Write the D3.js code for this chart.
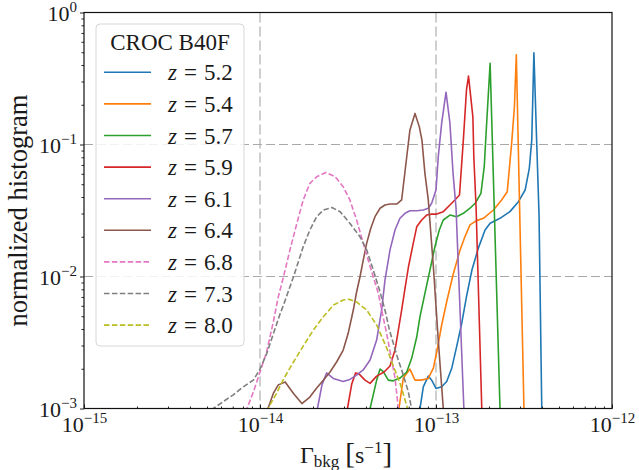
<!DOCTYPE html>
<html>
<head>
<meta charset="utf-8">
<script src="https://cdn.jsdelivr.net/npm/d3@7"></script>
<style>
  body { margin: 0; background: #fff; }
  text { font-family: "Liberation Serif", "DejaVu Serif", serif; fill: #1a1a1a; }
</style>
</head>
<body>
<div id="chart"></div>
<script>
// values: [Gamma_bkg (s^-1), normalized histogram]
var labels = ["5.2", "5.4", "5.7", "5.9", "6.1", "6.4", "6.8", "7.3", "8.0"];
var colors = ["#1f77b4", "#ff7f0e", "#2ca02c", "#d62728", "#9467bd", "#8c564b", "#e377c2", "#7f7f7f", "#bcbd22"];
var dashed = [false, false, false, false, false, false, true, true, true];

var z52 = [[7.91e-14, 8.2e-4], [8.11e-14, 1.0e-3], [8.47e-14, 1.46e-3], [9.04e-14, 1.76e-3], [9.45e-14, 1.64e-3],
  [1.0e-13, 1.42e-3], [1.077e-13, 1.46e-3], [1.15e-13, 1.60e-3], [1.23e-13, 2.03e-3], [1.31e-13, 2.94e-3],
  [1.40e-13, 4.42e-3], [1.49e-13, 7.03e-3], [1.60e-13, 1.12e-2], [1.74e-13, 1.64e-2], [1.90e-13, 2.25e-2],
  [2.03e-13, 2.53e-2], [2.31e-13, 2.76e-2], [2.63e-13, 3.10e-2], [2.94e-13, 3.69e-2], [3.21e-13, 4.52e-2],
  [3.39e-13, 6.6e-2], [3.50e-13, 0.108], [3.60e-13, 0.496], [3.73e-13, 0.108], [3.85e-13, 2.92e-2],
  [3.99e-13, 1.0e-3], [4.06e-13, 3.4e-4]];
var z54 = [[6.0e-14, 8.2e-4], [6.16e-14, 1.0e-3], [6.52e-14, 1.70e-3], [7.11e-14, 1.99e-3], [7.60e-14, 1.64e-3],
  [8.22e-14, 1.64e-3], [9.04e-14, 1.69e-3], [9.66e-14, 2.02e-3], [1.01e-13, 2.69e-3], [1.077e-13, 4.29e-3],
  [1.15e-13, 6.44e-3], [1.25e-13, 1.03e-2], [1.37e-13, 1.59e-2], [1.46e-13, 2.0e-2], [1.56e-13, 2.46e-2],
  [1.70e-13, 2.65e-2], [1.86e-13, 2.76e-2], [2.12e-13, 3.19e-2], [2.36e-13, 3.80e-2], [2.54e-13, 4.39e-2],
  [2.69e-13, 0.102], [2.79e-13, 0.193], [2.86e-13, 0.479], [3.16e-13, 1.0e-3], [3.18e-13, 6.9e-4]];
var z57 = [[4.11e-14, 8.2e-4], [4.22e-14, 1.0e-3], [4.60e-14, 1.64e-3], [4.81e-14, 1.99e-3], [5.02e-14, 1.90e-3],
  [5.36e-14, 1.64e-3], [5.72e-14, 1.62e-3], [6.24e-14, 1.70e-3], [6.82e-14, 1.89e-3], [7.28e-14, 2.41e-3],
  [7.77e-14, 3.48e-3], [8.11e-14, 4.96e-3], [8.65e-14, 7.46e-3], [9.24e-14, 1.12e-2], [9.86e-14, 1.68e-2],
  [1.044e-13, 2.25e-2], [1.10e-13, 2.68e-2], [1.20e-13, 2.92e-2], [1.31e-13, 2.84e-2], [1.43e-13, 3.01e-2],
  [1.56e-13, 3.29e-2], [1.67e-13, 3.59e-2], [1.80e-13, 4.27e-2], [1.88e-13, 6.79e-2], [1.94e-13, 0.145],
  [2.03e-13, 0.412], [2.31e-13, 1.0e-3], [2.33e-13, 6.9e-4]];
var z59 = [[3.04e-14, 8.2e-4], [3.14e-14, 1.0e-3], [3.32e-14, 1.53e-3], [3.49e-14, 1.86e-3], [3.65e-14, 1.83e-3],
  [3.95e-14, 1.64e-3], [4.22e-14, 1.55e-3], [4.60e-14, 1.76e-3], [5.07e-14, 1.89e-3], [5.48e-14, 2.10e-3],
  [5.85e-14, 2.77e-3], [6.11e-14, 3.93e-3], [6.38e-14, 5.57e-3], [6.67e-14, 8.18e-3], [6.97e-14, 1.18e-2],
  [7.43e-14, 1.79e-2], [7.77e-14, 2.38e-2], [8.29e-14, 2.68e-2], [8.85e-14, 2.92e-2], [9.45e-14, 2.97e-2],
  [1.01e-13, 2.97e-2], [1.10e-13, 3.10e-2], [1.20e-13, 3.48e-2], [1.28e-13, 3.80e-2], [1.36e-13, 4.14e-2],
  [1.43e-13, 0.108], [1.49e-13, 0.259], [1.53e-13, 0.330], [1.56e-13, 0.259], [1.62e-13, 0.162],
  [1.64e-13, 8.08e-2], [1.69e-13, 3.30e-2], [1.82e-13, 1.0e-3], [1.84e-13, 6.9e-4]];
var z61 = [[2.05e-14, 8.2e-4], [2.12e-14, 1.0e-3], [2.25e-14, 1.51e-3], [2.39e-14, 1.86e-3], [2.61e-14, 1.69e-3],
  [2.97e-14, 1.60e-3], [3.24e-14, 1.66e-3], [3.54e-14, 1.79e-3], [3.86e-14, 1.96e-3], [4.22e-14, 2.33e-3],
  [4.60e-14, 3.30e-3], [4.91e-14, 5.57e-3], [5.13e-14, 9.4e-3], [5.48e-14, 1.59e-2], [5.85e-14, 2.25e-2],
  [6.24e-14, 2.76e-2], [6.67e-14, 3.01e-2], [7.11e-14, 3.15e-2], [7.77e-14, 3.15e-2], [8.47e-14, 3.19e-2],
  [9.04e-14, 3.29e-2], [9.45e-14, 3.59e-2], [1.0e-13, 4.52e-2], [1.03e-13, 8.08e-2], [1.077e-13, 0.145],
  [1.14e-13, 0.249], [1.20e-13, 0.145], [1.25e-13, 6.05e-2], [1.30e-13, 3.29e-2], [1.44e-13, 1.0e-3],
  [1.46e-13, 6.9e-4]];
var z64 = [[1.08e-14, 7.5e-4], [1.11e-14, 1.0e-3], [1.19e-14, 1.30e-3], [1.27e-14, 1.51e-3], [1.39e-14, 1.59e-3],
  [1.55e-14, 1.30e-3], [1.73e-14, 1.09e-3], [1.92e-14, 1.22e-3], [2.10e-14, 1.43e-3], [2.29e-14, 1.64e-3],
  [2.50e-14, 1.89e-3], [2.73e-14, 2.26e-3], [2.97e-14, 2.77e-3], [3.17e-14, 3.71e-3], [3.39e-14, 5.57e-3],
  [3.53e-14, 7.5e-3], [3.70e-14, 9.96e-3], [3.86e-14, 1.33e-2], [4.04e-14, 1.79e-2], [4.26e-14, 2.32e-2],
  [4.50e-14, 2.84e-2], [4.81e-14, 3.29e-2], [5.13e-14, 3.48e-2], [5.48e-14, 3.54e-2], [5.98e-14, 3.54e-2],
  [6.38e-14, 3.80e-2], [6.82e-14, 8.08e-2], [7.11e-14, 0.129], [7.60e-14, 0.172], [8.04e-14, 0.136],
  [8.32e-14, 0.108], [8.65e-14, 6.05e-2], [9.04e-14, 3.80e-2], [9.66e-14, 1.19e-2], [1.03e-13, 3.30e-3],
  [1.10e-13, 1.0e-3], [1.12e-13, 6.9e-4]];
var z68 = [[8.11e-15, 8.2e-4], [8.43e-15, 1.0e-3], [9.16e-15, 1.33e-3], [1.0e-14, 1.89e-3], [1.09e-14, 2.68e-3],
  [1.19e-14, 4.52e-3], [1.27e-14, 7.0e-3], [1.36e-14, 9.96e-3], [1.48e-14, 1.59e-2], [1.62e-14, 2.53e-2],
  [1.76e-14, 3.80e-2], [1.92e-14, 5.08e-2], [2.10e-14, 5.70e-2], [2.37e-14, 6.14e-2], [2.67e-14, 5.70e-2],
  [2.97e-14, 4.79e-2], [3.24e-14, 3.80e-2], [3.54e-14, 2.68e-2], [3.86e-14, 1.79e-2], [4.12e-14, 1.33e-2],
  [4.40e-14, 9.96e-3], [4.70e-14, 7.46e-3], [5.02e-14, 4.85e-3], [5.25e-14, 3.67e-3], [5.60e-14, 2.33e-3],
  [5.85e-14, 1.70e-3], [6.11e-14, 1.0e-3], [6.24e-14, 7.5e-4]];
var z73 = [[4.87e-15, 8.93e-4], [5.43e-15, 1.0e-3], [6.19e-15, 1.13e-3], [7.05e-15, 1.27e-3], [8.03e-15, 1.46e-3],
  [9.16e-15, 1.64e-3], [1.0e-14, 1.99e-3], [1.09e-14, 2.59e-3], [1.19e-14, 3.67e-3], [1.30e-14, 5.20e-3],
  [1.36e-14, 6.08e-3], [1.55e-14, 9.96e-3], [1.76e-14, 1.68e-2], [1.92e-14, 2.25e-2], [2.10e-14, 2.84e-2],
  [2.29e-14, 3.19e-2], [2.56e-14, 3.33e-2], [2.85e-14, 3.10e-2], [3.24e-14, 2.53e-2], [3.70e-14, 2.0e-2],
  [4.04e-14, 1.59e-2], [4.40e-14, 1.12e-2], [4.81e-14, 7.63e-3], [5.13e-14, 5.57e-3], [5.44e-14, 3.93e-3],
  [5.98e-14, 2.54e-3], [6.52e-14, 1.79e-3], [6.97e-14, 1.33e-3], [7.26e-14, 1.0e-3], [7.40e-14, 7.5e-4]];
var z80 = [[1.07e-14, 8.2e-4], [1.11e-14, 1.0e-3], [1.24e-14, 1.30e-3], [1.36e-14, 1.67e-3], [1.55e-14, 2.25e-3],
  [1.76e-14, 2.97e-3], [2.01e-14, 3.93e-3], [2.29e-14, 4.96e-3], [2.62e-14, 6.08e-3], [2.97e-14, 6.64e-3],
  [3.21e-14, 6.72e-3], [3.54e-14, 6.41e-3], [4.04e-14, 5.57e-3], [4.60e-14, 4.29e-3], [5.25e-14, 2.87e-3],
  [5.72e-14, 2.10e-3], [6.24e-14, 1.56e-3], [6.67e-14, 1.16e-3], [6.89e-14, 1.0e-3], [7.03e-14, 8.2e-4]];

var series = [z52, z54, z57, z59, z61, z64, z68, z73, z80];
var hLines = [1e-1, 1e-2];
var vLines = [1e-14, 1e-13];

var svgWidth = 639;
var svgHeight = 470;
var margin = { top: 12.5, right: 27, bottom: 61.5, left: 84 };
var width = svgWidth - margin.left - margin.right;
var height = svgHeight - margin.top - margin.bottom;

var svg = d3.select("#chart").append("svg")
  .attr("width", svgWidth)
  .attr("height", svgHeight);

var chartGroup = svg.append("g")
  .attr("transform", `translate(${margin.left}, ${margin.top})`);

var x = d3.scaleLog().domain([1e-15, 1e-12]).range([0, width]);
var y = d3.scaleLog().domain([1e-3, 1]).range([height, 0]);

chartGroup.append("clipPath").attr("id", "plotclip")
  .append("rect").attr("width", width).attr("height", height);

// reference lines
chartGroup.selectAll(".vline").data(vLines).enter().append("line")
  .attr("x1", d => x(d)).attr("x2", d => x(d))
  .attr("y1", 0).attr("y2", height)
  .attr("stroke", "#cfcfcf").attr("stroke-width", 2)
  .attr("stroke-dasharray", "10,4");

chartGroup.selectAll(".hline").data(hLines).enter().append("line")
  .attr("x1", 0).attr("x2", width)
  .attr("y1", d => y(d)).attr("y2", d => y(d))
  .attr("stroke", "#a8a8a8").attr("stroke-width", 1.2)
  .attr("stroke-dasharray", "9,4");

// curves
var line = d3.line().x(d => x(d[0])).y(d => y(d[1]));
var curves = chartGroup.append("g").attr("clip-path", "url(#plotclip)");
series.forEach(function(s, i) {
  curves.append("path")
    .datum(s)
    .attr("d", line)
    .attr("fill", "none")
    .attr("stroke", colors[i])
    .attr("stroke-width", 1.6)
    .attr("stroke-linejoin", "round")
    .attr("stroke-dasharray", dashed[i] ? "5.5,2.4" : null);
});

// axes
var majorX = [1e-15, 1e-14, 1e-13, 1e-12];
var majorY = [1e-3, 1e-2, 1e-1, 1];
var minorX = x.ticks().filter(d => majorX.indexOf(d) < 0);
var minorY = y.ticks().filter(d => majorY.indexOf(d) < 0);

function powLabel(sel) {
  sel.each(function(d) {
    var e = Math.round(Math.log10(d));
    var t = d3.select(this).text("");
    t.append("tspan").text("10");
    t.append("tspan").attr("dy", "-9").attr("font-size", "15px")
      .text(e < 0 ? "\u2212" + (-e) : "" + e);
  });
}

var xMinor = chartGroup.append("g").attr("transform", `translate(0, ${height})`)
  .call(d3.axisBottom(x).tickValues(minorX).tickSize(-2).tickSizeOuter(0).tickFormat(""));
var xMajor = chartGroup.append("g").attr("transform", `translate(0, ${height})`)
  .call(d3.axisBottom(x).tickValues(majorX).tickSize(-4).tickSizeOuter(0));
xMajor.selectAll(".tick text").attr("y", 23.5).attr("dy", null)
  .attr("font-size", "22px").call(powLabel);

var yMinor = chartGroup.append("g")
  .call(d3.axisLeft(y).tickValues(minorY).tickSize(2.5).tickSizeOuter(0).tickFormat(""));
var yMajor = chartGroup.append("g")
  .call(d3.axisLeft(y).tickValues(majorY).tickSize(4).tickSizeOuter(0));
yMajor.selectAll(".tick text").attr("x", -7).attr("dy", "0.36em")
  .attr("font-size", "22px").call(powLabel);

[xMinor, xMajor, yMinor, yMajor].forEach(function(g) {
  g.select(".domain").remove();
  g.selectAll(".tick line").attr("stroke", "#222");
  g.attr("font-family", null);
});

chartGroup.append("rect")
  .attr("width", width).attr("height", height)
  .attr("fill", "none").attr("stroke", "#111").attr("stroke-width", 1.2);

// axis labels
var xl = chartGroup.append("text")
  .attr("x", width / 2 - 2).attr("y", height + 54.5)
  .attr("text-anchor", "middle").attr("font-size", "24px");
xl.append("tspan").text("\u0393");
xl.append("tspan").attr("font-size", "17px").attr("dy", 4).text("bkg");
xl.append("tspan").attr("dy", -4).attr("dx", 6).attr("font-size", "29px").text("[");
xl.append("tspan").text("s");
xl.append("tspan").attr("font-size", "17px").attr("dy", -10).text("\u22121");
xl.append("tspan").attr("dy", 10).attr("font-size", "29px").text("]");

chartGroup.append("text")
  .attr("transform", `translate(${27 - margin.left}, ${height / 2}) rotate(-90)`)
  .attr("text-anchor", "middle").attr("font-size", "26.5px")
  .text("normalized histogram");

// legend
var legend = svg.append("g").attr("transform", "translate(96, 24)");
legend.append("rect")
  .attr("width", 148).attr("height", 322).attr("rx", 4)
  .attr("fill", "#fff").attr("fill-opacity", 0.85)
  .attr("stroke", "#d6d6d6").attr("stroke-width", 1);
legend.append("text")
  .attr("x", 74).attr("y", 26).attr("text-anchor", "middle")
  .attr("font-size", "23px").text("CROC B40F");

var rows = legend.selectAll(".row").data(labels).enter().append("g")
  .attr("transform", (d, i) => `translate(0, ${48.3 + i * 31.6})`);
rows.append("line")
  .attr("x1", 8).attr("x2", 55).attr("y1", 0).attr("y2", 0)
  .attr("stroke", (d, i) => colors[i]).attr("stroke-width", 1.6)
  .attr("stroke-dasharray", (d, i) => dashed[i] ? "5.5,2.4" : null);
var rt = rows.append("text").attr("x", 72).attr("y", 8).attr("font-size", "23px");
rt.append("tspan").attr("font-style", "italic").text("z");
rt.append("tspan").attr("dx", 7).text("=");
rt.append("tspan").attr("dx", 7).text(d => d);
</script>
</body>
</html>
